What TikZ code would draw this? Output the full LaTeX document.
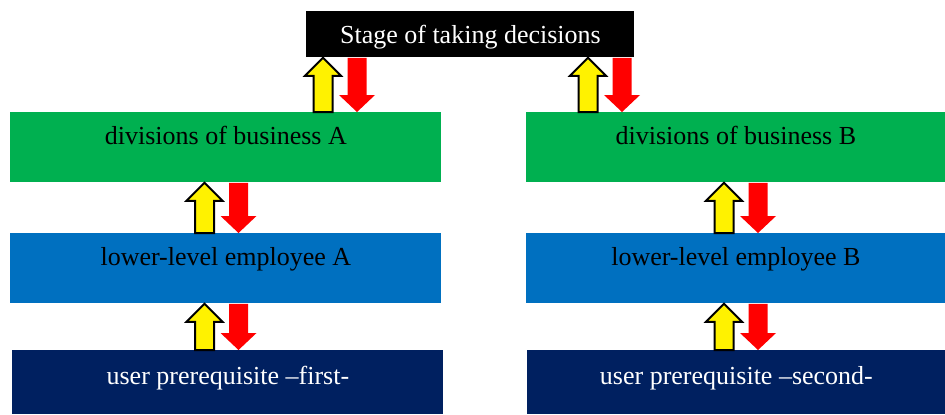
\documentclass[tikz,border=0pt]{standalone}
\usepackage{fontspec}
\setmainfont{Liberation Serif}
\usetikzlibrary{calc}

\definecolor{divgreen}{HTML}{00B050}
\definecolor{empblue}{HTML}{0070C0}
\definecolor{reqnavy}{HTML}{002060}

\tikzset{
  box/.style={rectangle, inner sep=0pt, anchor=north west, font=\fontsize{13}{15}\selectfont},
  stage/.style={box, fill=black, text=white, text height=16pt, text depth=7pt},
  division/.style={box, fill=divgreen, text height=16pt, text depth=19pt},
  employee/.style={box, fill=empblue, text height=16pt, text depth=19pt},
  prereq/.style={box, fill=reqnavy, text=white, text height=17pt, text depth=15pt},
  uparr/.style={fill=yellow, draw=black, line width=1pt, line join=miter},
  downarr/.style={fill=red},
}

% yellow up arrow and red down arrow between two boxes, #3 = x of the up arrow
\newcommand{\flowpair}[3]{%
  \coordinate (ut) at (#3,0 |- #1.south);
  \coordinate (ub) at (#3,0 |- #2.north);
  \coordinate (dt) at ({#3+34},0 |- #1.south);
  \coordinate (db) at ({#3+34},0 |- #2.north);
  \draw[uparr] (ut) -- ++(18,-18) -- ++(-8.5,0) -- ($(ub)+(9.5,0)$) -- ++(-19,0)
    -- ($(ut)+(-9.5,-18)$) -- ++(-8.5,0) -- cycle;
  \fill[downarr] ($(dt)+(-9.5,0)$) -- ++(19,0) -- ($(db)+(9.5,17)$) -- ++(8.5,0)
    -- (db) -- ++(-18,17) -- ++(8.5,0) -- cycle;
}

\begin{document}
\begin{tikzpicture}[x=0.5pt, y=0.5pt]
  \useasboundingbox (0,0) rectangle (945,414);
  % top
  \node[stage, minimum width=164pt] (stage) at (306,403) {Stage of taking decisions};
  % column A
  \node[division, minimum width=215.5pt] (divA) at (10,302) {divisions of business A};
  \node[employee, minimum width=215.5pt] (empA) at (10,181) {lower-level employee A};
  \node[prereq, minimum width=215.5pt] (reqA) at (12,64) {user prerequisite –first-};
  % column B
  \node[division, minimum width=209.5pt] (divB) at (526,302) {divisions of business B};
  \node[employee, minimum width=209.5pt] (empB) at (526,181) {lower-level employee B};
  \node[prereq, minimum width=209pt] (reqB) at (527,64) {user prerequisite –second-};
  % arrows
  \flowpair{stage}{divA}{323}
  \flowpair{stage}{divB}{588}
  \flowpair{divA}{empA}{204.5}
  \flowpair{empA}{reqA}{204.5}
  \flowpair{divB}{empB}{724}
  \flowpair{empB}{reqB}{724}
\end{tikzpicture}
\end{document}
